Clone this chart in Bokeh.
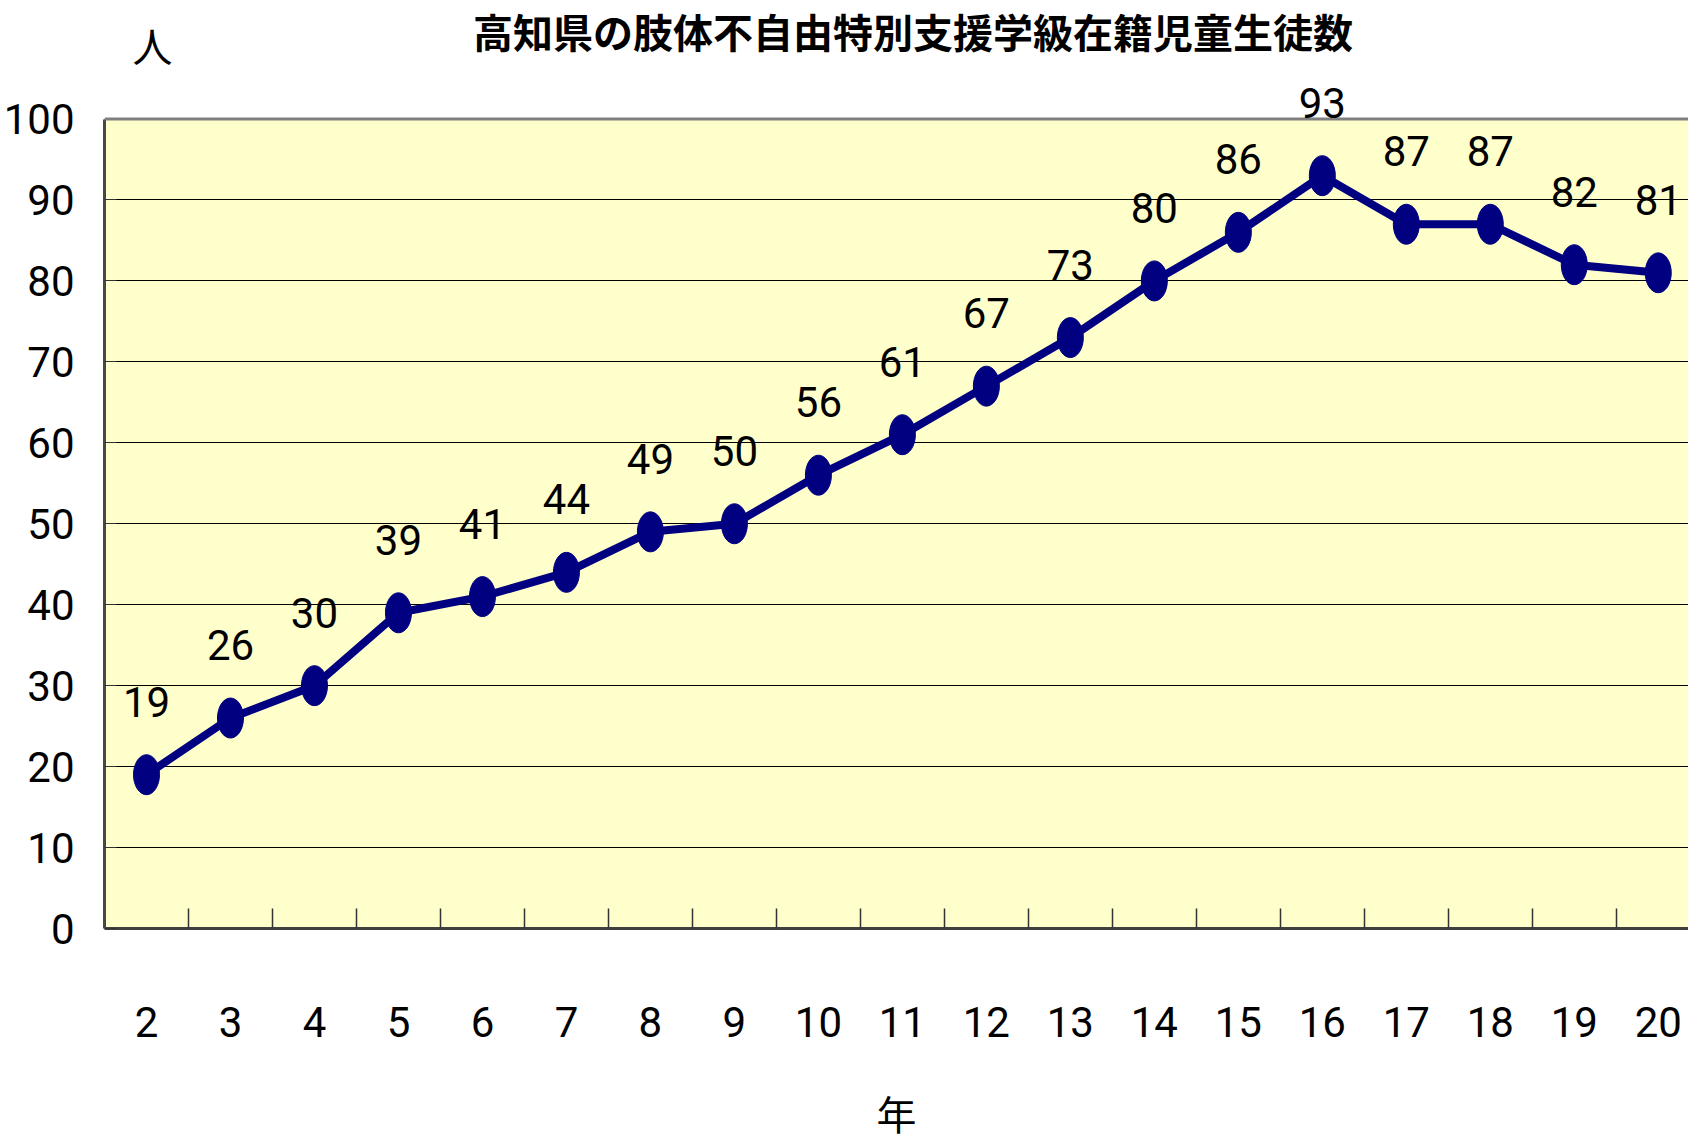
from bokeh.plotting import figure
from bokeh.models import (ColumnDataSource, Range1d, LinearAxis, FixedTicker, Label,
                          LabelSet, BoxAnnotation, Span)
from bokeh.embed import file_html
from bokeh.resources import INLINE
from bokeh.core.properties import value

# ---- data ----
years = ["2", "3", "4", "5", "6", "7", "8", "9", "10", "11", "12", "13",
         "14", "15", "16", "17", "18", "19", "20"]
counts = [19, 26, 30, 39, 41, 44, 49, 50, 56, 61, 67, 73, 80, 86, 93, 87, 87, 82, 81]
y_ticks = [0, 10, 20, 30, 40, 50, 60, 70, 80, 90, 100]
title_text = "高知県の肢体不自由特別支援学級在籍児童生徒数"
x_title = "年"
y_title = "人"

xs = list(range(len(years)))
src = ColumnDataSource(dict(x=xs, y=counts, lab=[str(c) for c in counts]))

NUM_FONT = "Roboto"
JP_FONT = "Noto Sans CJK JP"

W, H = 1688, 1144
LEFT, BOTTOM = 103, 212
Y_MIN, Y_MAX = y_ticks[0], y_ticks[-1]

p = figure(width=W, height=H,
           x_range=Range1d(-0.5, 18.36), y_range=Range1d(Y_MIN, 114.64),
           output_backend="svg", toolbar_location=None,
           x_axis_location=None, y_axis_location=None,
           min_border_left=LEFT, min_border_right=0,
           min_border_top=0, min_border_bottom=BOTTOM)
p.border_fill_color = "white"
p.background_fill_color = "white"
p.outline_line_color = None

# plot area (0..100) in pale yellow, grey top border
p.add_layout(BoxAnnotation(bottom=Y_MIN, top=Y_MAX, fill_color="#FFFFCC", fill_alpha=1.0,
                           line_color=None, level="image"))
p.add_layout(Span(location=Y_MAX, dimension="width", line_color="#808080", line_width=3,
                  level="guide"))

# y axis
yax = LinearAxis(ticker=FixedTicker(ticks=y_ticks), bounds=(Y_MIN, Y_MAX))
yax.axis_line_color = "#484848"
yax.axis_line_width = 3
yax.major_tick_in = 12
yax.major_tick_out = 0
yax.major_tick_line_color = "#333333"
yax.minor_tick_line_color = None
yax.major_label_standoff = 30
yax.major_label_text_font = NUM_FONT
yax.major_label_text_font_size = "42px"
yax.major_label_text_color = "black"
p.add_layout(yax, "left")

# x axis: labels at category centres, minor ticks at boundaries
xax = LinearAxis(ticker=FixedTicker(ticks=xs, minor_ticks=[i + 0.5 for i in xs]))
xax.major_label_overrides = {i: years[i] for i in xs}
xax.axis_line_color = "#404040"
xax.axis_line_width = 3
xax.major_tick_line_color = None
xax.major_tick_in = 0
xax.major_tick_out = 0
xax.minor_tick_in = 20
xax.minor_tick_out = 0
xax.minor_tick_line_color = "#333333"
xax.minor_tick_line_width = 1.5
xax.major_label_standoff = 78
xax.major_label_text_font = NUM_FONT
xax.major_label_text_font_size = "42px"
xax.major_label_text_color = "black"
xax.axis_label = x_title
xax.axis_label_standoff = 44
xax.axis_label_text_font = JP_FONT
xax.axis_label_text_font_size = "40px"
xax.axis_label_text_font_style = "normal"
xax.axis_label_text_color = "black"
p.add_layout(xax, "below")

p.xgrid.visible = False
p.ygrid.ticker = FixedTicker(ticks=y_ticks[:-1])
p.ygrid.grid_line_color = "black"
p.ygrid.grid_line_width = 1

# series
p.line("x", "y", source=src, line_color="#000080", line_width=8)
p.ellipse("x", "y", source=src, width=26, height=40,
          width_units="screen", height_units="screen",
          fill_color="#000080", line_color="#000080")
p.add_layout(LabelSet(x="x", y="y", text="lab", source=src, y_offset=73,
                      text_align="center", text_baseline="middle",
                      text_font=value(NUM_FONT), text_font_size="42px",
                      text_color="black"))

# titles
p.add_layout(Label(x=9.125, y=114.4, text=title_text, text_align="center",
                   text_baseline="top", text_font=JP_FONT, text_font_size="40px",
                   text_font_style="bold", text_color="black"))
p.add_layout(Label(x=0.071, y=109.1, text=y_title, text_align="center",
                   text_baseline="middle", text_font=JP_FONT, text_font_size="40px",
                   text_color="black"))

open("out.html", "w").write(file_html(p, INLINE))
